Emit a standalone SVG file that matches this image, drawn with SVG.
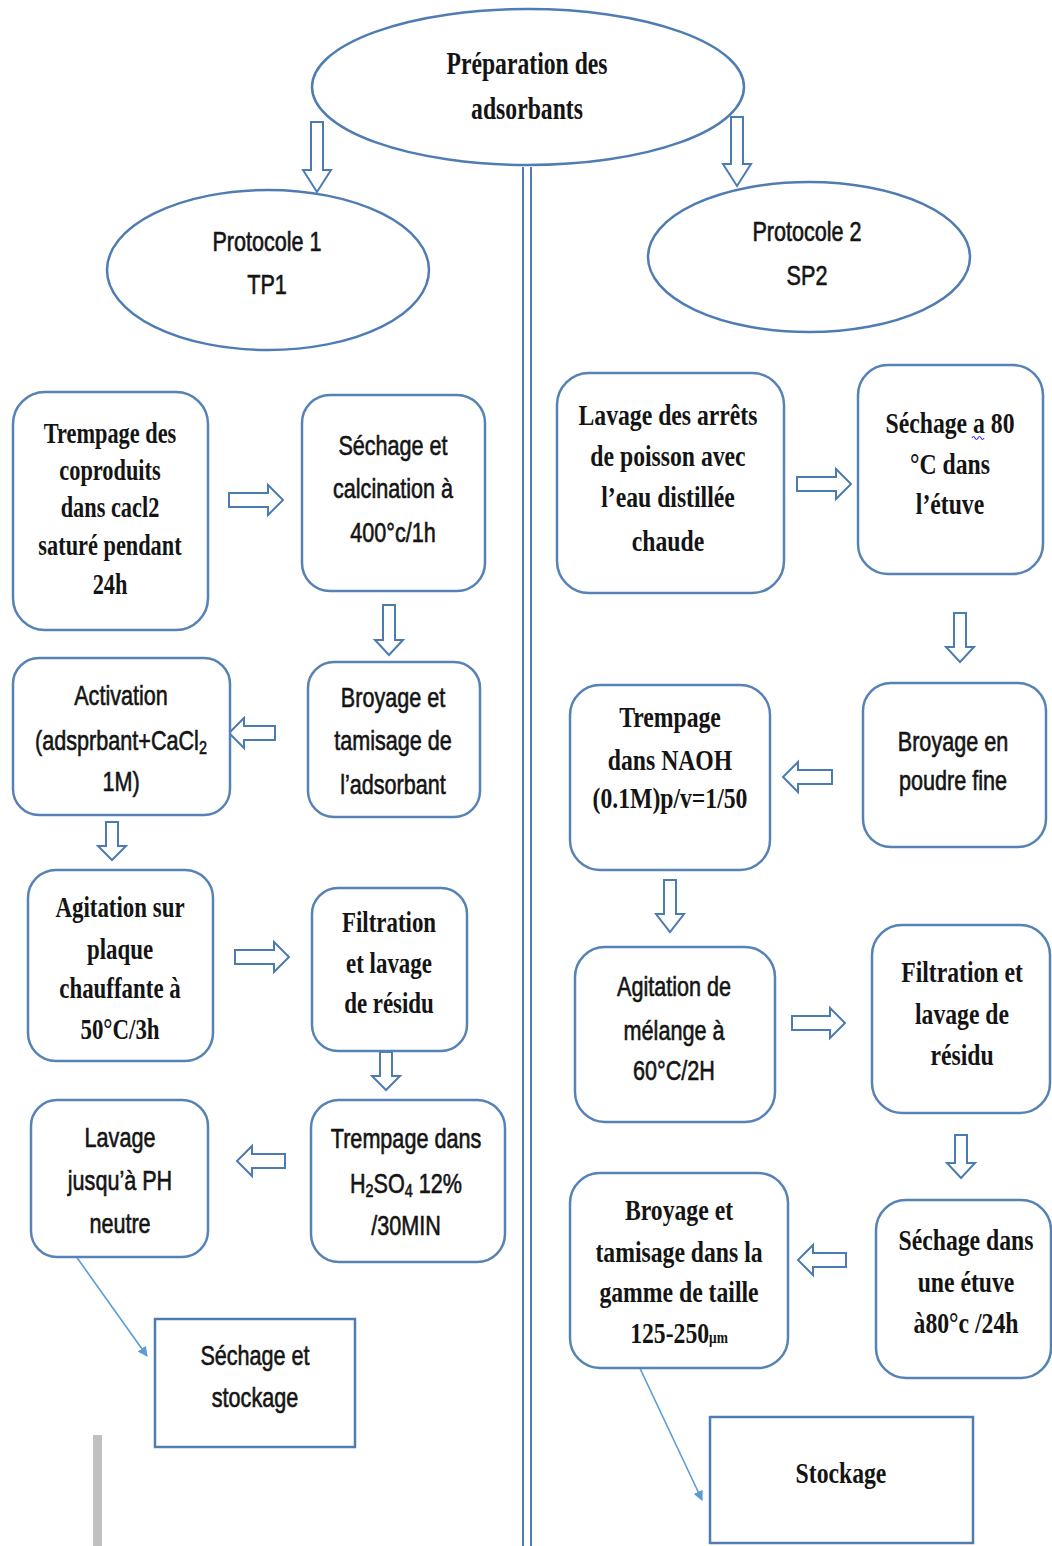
<svg xmlns="http://www.w3.org/2000/svg" width="1052" height="1546" viewBox="0 0 1052 1546">
<style>
.box{fill:#fff;stroke:#5682b5;stroke-width:2.5}
.rect{fill:#fff;stroke:#4f7db3;stroke-width:2.5}
.ell{fill:#fff;stroke:#4f7db3;stroke-width:2.5}
.ba{fill:#fff;stroke:#4c7bb0;stroke-width:2;stroke-linejoin:miter}
.thin{fill:none;stroke:#5b9bd5;stroke-width:1.6}
.sep{stroke:#4f7db3;stroke-width:2}
.sf{font-family:"Liberation Serif","Times New Roman",serif;font-weight:bold;font-size:29px;text-anchor:middle;fill:#141414}
.ss{font-family:"Liberation Sans",Arial,sans-serif;font-size:27px;text-anchor:middle;fill:#141414;stroke:#141414;stroke-width:0.6}
</style>
<defs>
<marker id="ah" markerWidth="10" markerHeight="10" refX="9" refY="5" orient="auto" markerUnits="userSpaceOnUse">
<path d="M0,0 L10,5 L0,10 Z" fill="#5b9bd5"/>
</marker>
</defs>
<rect width="1052" height="1546" fill="#fff"/>

<g id="connectors">
<line class="sep" x1="523" y1="167" x2="523" y2="1546"/>
<line class="sep" x1="531" y1="167" x2="531" y2="1546"/>
<path class="ba" d="M311,122 V170 H303 L317,192 L331,170 H323 V122 Z"/>
<path class="ba" d="M731,117 V164 H723 L737,186 L751,164 H743 V117 Z"/>
<path class="ba" d="M229,493 H268 V485 L283,500 L268,515 V507 H229 Z"/>
<path class="ba" d="M383,605 V640 H375 L389,655 L403,640 H395 V605 Z"/>
<path class="ba" d="M275,726 H244 V718 L229,733 L244,748 V740 H275 Z"/>
<path class="ba" d="M106,822 V846 H98 L112,860 L126,846 H118 V822 Z"/>
<path class="ba" d="M235,950 H274 V942 L289,957 L274,972 V964 H235 Z"/>
<path class="ba" d="M380,1052 V1076 H372 L386,1090 L400,1076 H392 V1052 Z"/>
<path class="ba" d="M285,1154 H252 V1146 L237,1161 L252,1176 V1168 H285 Z"/>
<line class="thin" x1="68" y1="1245" x2="147" y2="1356" marker-end="url(#ah)"/>
<path class="ba" d="M797,477 H836 V469 L851,484 L836,499 V491 H797 Z"/>
<path class="ba" d="M954,613 V647 H946 L960,662 L974,647 H966 V613 Z"/>
<path class="ba" d="M832,770 H798 V762 L783,777 L798,792 V784 H832 Z"/>
<path class="ba" d="M664,880 V914 H656 L670,932 L684,914 H676 V880 Z"/>
<path class="ba" d="M792,1016 H830 V1008 L845,1023 L830,1038 V1030 H792 Z"/>
<path class="ba" d="M955,1135 V1163 H947 L961,1178 L975,1163 H967 V1135 Z"/>
<path class="ba" d="M846,1253 H813 V1245 L798,1260 L813,1275 V1267 H846 Z"/>
<line class="thin" x1="637" y1="1362" x2="702" y2="1500" marker-end="url(#ah)"/>
</g>

<g id="title">
<ellipse class="ell" cx="528" cy="87" rx="216" ry="78"/>
<g transform="translate(527 0) scale(0.74 1)">
<text class="sf" style="font-size:32px" x="0" y="74">Préparation des</text>
<text class="sf" style="font-size:32px" x="0" y="119">adsorbants</text>
</g>
</g>

<g id="protocole1">
<ellipse class="ell" cx="268" cy="270" rx="161" ry="80"/>
<g transform="translate(267 0) scale(0.8 1)">
<text class="ss" x="0" y="251">Protocole 1</text>
<text class="ss" x="0" y="294">TP1</text>
</g>
</g>

<g id="protocole2">
<ellipse class="ell" cx="809" cy="257" rx="161" ry="75"/>
<g transform="translate(807 0) scale(0.8 1)">
<text class="ss" x="0" y="241">Protocole 2</text>
<text class="ss" x="0" y="285">SP2</text>
</g>
</g>

<g id="l1">
<rect class="box" x="13" y="392" width="195" height="238" rx="32"/>
<g transform="translate(110 0) scale(0.77 1)">
<text class="sf" x="0" y="443">Trempage des</text>
<text class="sf" x="0" y="480">coproduits</text>
<text class="sf" x="0" y="517">dans cacl2</text>
<text class="sf" x="0" y="555">saturé pendant</text>
<text class="sf" x="0" y="594">24h</text>
</g>
</g>

<g id="l2">
<rect class="box" x="302" y="395" width="183" height="196" rx="28"/>
<g transform="translate(393 0) scale(0.8 1)">
<text class="ss" x="0" y="455">Séchage et</text>
<text class="ss" x="0" y="498">calcination à</text>
<text class="ss" x="0" y="542">400°c/1h</text>
</g>
</g>

<g id="l3">
<rect class="box" x="13" y="658" width="217" height="157" rx="26"/>
<g transform="translate(121 0) scale(0.8 1)">
<text class="ss" x="0" y="705">Activation</text>
<text class="ss" x="0" y="750">(adsprbant+CaCl<tspan style="font-size:18px" dy="4">2</tspan></text>
<text class="ss" x="0" y="791">1M)</text>
</g>
</g>

<g id="l4">
<rect class="box" x="308" y="662" width="172" height="155" rx="26"/>
<g transform="translate(393 0) scale(0.8 1)">
<text class="ss" x="0" y="707">Broyage et</text>
<text class="ss" x="0" y="750">tamisage de</text>
<text class="ss" x="0" y="794">l’adsorbant</text>
</g>
</g>

<g id="l5">
<rect class="box" x="28" y="870" width="185" height="191" rx="28"/>
<g transform="translate(120 0) scale(0.79 1)">
<text class="sf" x="0" y="917">Agitation sur</text>
<text class="sf" x="0" y="959">plaque</text>
<text class="sf" x="0" y="998">chauffante à</text>
<text class="sf" x="0" y="1039">50°C/3h</text>
</g>
</g>

<g id="l6">
<rect class="box" x="312" y="888" width="155" height="163" rx="26"/>
<g transform="translate(389 0) scale(0.79 1)">
<text class="sf" x="0" y="932">Filtration</text>
<text class="sf" x="0" y="973">et lavage</text>
<text class="sf" x="0" y="1013">de résidu</text>
</g>
</g>

<g id="l7">
<rect class="box" x="311" y="1100" width="194" height="162" rx="28"/>
<g transform="translate(406 0) scale(0.8 1)">
<text class="ss" x="0" y="1148">Trempage dans</text>
<text class="ss" x="0" y="1193">H<tspan style="font-size:18px" dy="4">2</tspan><tspan dy="-4">SO</tspan><tspan style="font-size:18px" dy="4">4</tspan><tspan dy="-4"> 12%</tspan></text>
<text class="ss" x="0" y="1235">/30MIN</text>
</g>
</g>

<g id="l8">
<rect class="box" x="31" y="1100" width="177" height="157" rx="26"/>
<g transform="translate(120 0) scale(0.8 1)">
<text class="ss" x="0" y="1147">Lavage</text>
<text class="ss" x="0" y="1190">jusqu’à PH</text>
<text class="ss" x="0" y="1233">neutre</text>
</g>
</g>

<g id="l9">
<rect class="rect" x="155" y="1319" width="200" height="128"/>
<g transform="translate(255 0) scale(0.8 1)">
<text class="ss" x="0" y="1365">Séchage et</text>
<text class="ss" x="0" y="1407">stockage</text>
</g>
</g>

<rect id="graybar" x="93" y="1435" width="9" height="111" fill="#c0c0c0"/>

<g id="r1">
<rect class="box" x="557" y="373" width="227" height="220" rx="32"/>
<g transform="translate(668 0) scale(0.79 1)">
<text class="sf" style="font-size:30px" x="0" y="425">Lavage des arrêts</text>
<text class="sf" style="font-size:30px" x="0" y="466">de poisson avec</text>
<text class="sf" style="font-size:30px" x="0" y="507">l’eau distillée</text>
<text class="sf" style="font-size:30px" x="0" y="551">chaude</text>
</g>
</g>

<g id="r2">
<rect class="box" x="858" y="365" width="185" height="209" rx="30"/>
<g transform="translate(950 0) scale(0.79 1)">
<text class="sf" style="font-size:30px" x="0" y="433">Séchage a 80</text>
<text class="sf" style="font-size:30px" x="0" y="474">°C dans</text>
<text class="sf" style="font-size:30px" x="0" y="514">l’étuve</text>
</g>
<path d="M972,438 q1.5,-3 3,0 t3,0 t3,0 t3,0" fill="none" stroke="#3a3aff" stroke-width="1.2"/>
</g>

<g id="r3">
<rect class="box" x="863" y="683" width="183" height="164" rx="28"/>
<g transform="translate(953 0) scale(0.8 1)">
<text class="ss" x="0" y="751">Broyage en</text>
<text class="ss" x="0" y="790">poudre fine</text>
</g>
</g>

<g id="r4">
<rect class="box" x="570" y="685" width="200" height="185" rx="30"/>
<g transform="translate(670 0) scale(0.79 1)">
<text class="sf" style="font-size:30px" x="0" y="727">Trempage</text>
<text class="sf" style="font-size:30px" x="0" y="770">dans NAOH</text>
<text class="sf" style="font-size:30px" x="0" y="808">(0.1M)p/v=1/50</text>
</g>
</g>

<g id="r5">
<rect class="box" x="575" y="947" width="200" height="175" rx="30"/>
<g transform="translate(674 0) scale(0.8 1)">
<text class="ss" x="0" y="996">Agitation de</text>
<text class="ss" x="0" y="1040">mélange à</text>
<text class="ss" x="0" y="1080">60°C/2H</text>
</g>
</g>

<g id="r6">
<rect class="box" x="872" y="925" width="178" height="188" rx="30"/>
<g transform="translate(962 0) scale(0.79 1)">
<text class="sf" style="font-size:30px" x="0" y="982">Filtration et</text>
<text class="sf" style="font-size:30px" x="0" y="1024">lavage de</text>
<text class="sf" style="font-size:30px" x="0" y="1065">résidu</text>
</g>
</g>

<g id="r7">
<rect class="box" x="876" y="1200" width="175" height="178" rx="30"/>
<g transform="translate(966 0) scale(0.79 1)">
<text class="sf" style="font-size:30px" x="0" y="1250">Séchage dans</text>
<text class="sf" style="font-size:30px" x="0" y="1292">une étuve</text>
<text class="sf" style="font-size:30px" x="0" y="1333">à80°c /24h</text>
</g>
</g>

<g id="r8">
<rect class="box" x="570" y="1173" width="218" height="195" rx="30"/>
<g transform="translate(679 0) scale(0.79 1)">
<text class="sf" style="font-size:30px" x="0" y="1220">Broyage et</text>
<text class="sf" style="font-size:30px" x="0" y="1262">tamisage dans la</text>
<text class="sf" style="font-size:30px" x="0" y="1302">gamme de taille</text>
<text class="sf" style="font-size:30px" x="0" y="1343">125-250<tspan style="font-size:17px">μm</tspan></text>
</g>
</g>

<g id="r9">
<rect class="rect" x="710" y="1417" width="263" height="126"/>
<g transform="translate(841 0) scale(0.79 1)">
<text class="sf" style="font-size:30px" x="0" y="1483">Stockage</text>
</g>
</g>
</svg>
